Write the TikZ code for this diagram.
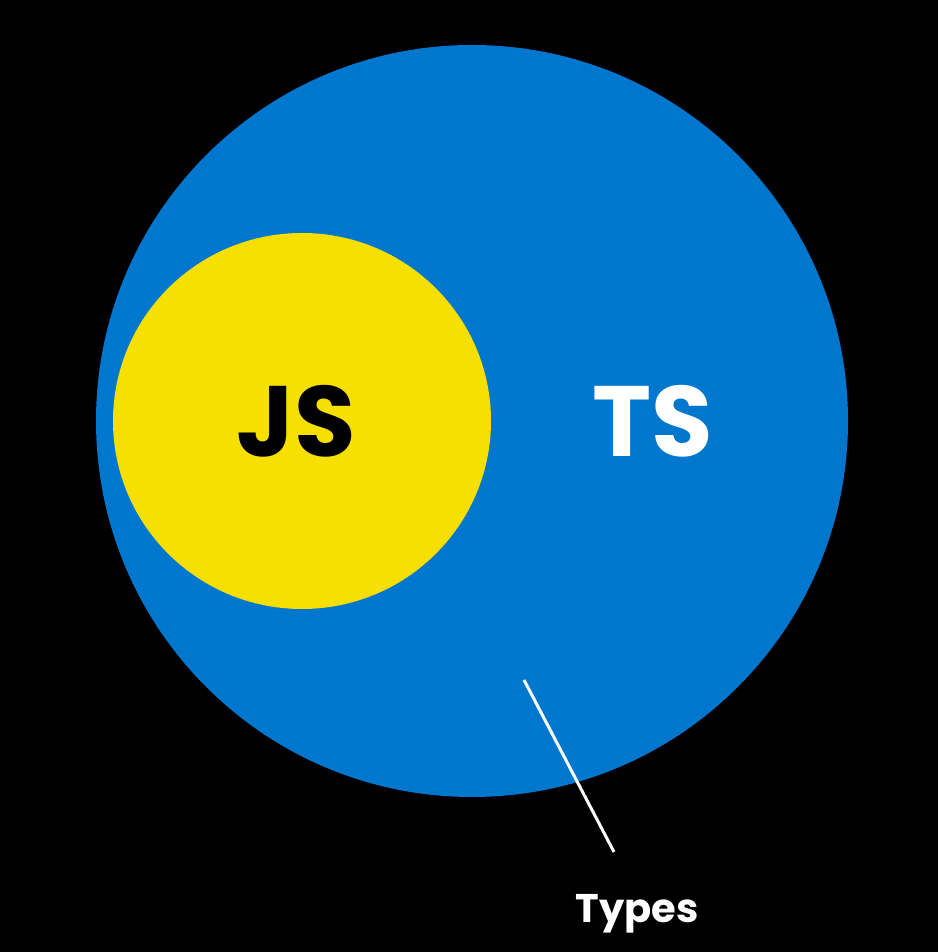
\documentclass[tikz,border=0pt]{standalone}
\usepackage{fontspec}
\usetikzlibrary{shapes.geometric}
\setmainfont{Poppins}
\definecolor{tsblue}{HTML}{0077CF}
\definecolor{jsyellow}{HTML}{F7DF00}
\begin{document}
\begin{tikzpicture}[x=1pt,y=1pt,
  lbl/.style={font=\bfseries\fontsize{100}{100}\selectfont,inner sep=0pt}]
\fill[black] (0,0) rectangle (938,952);
\useasboundingbox (0,0) rectangle (938,952);
\node[circle,fill=tsblue,minimum size=752pt,inner sep=0pt] (ts) at (472,531) {};
\node[ellipse,fill=jsyellow,minimum width=378pt,minimum height=376pt,inner sep=0pt] (js) at (302,531) {};
\node[lbl,text=black] (jst) at (296,531) {JS};
\node[lbl,text=white] (tst) at (653,531) {TS};
\coordinate (a) at (524,272);
\coordinate (b) at (614,100);
\draw[white,line width=3pt] (a) -- (b);
\node[text=white,font=\bfseries\fontsize{40}{40}\selectfont,inner sep=0pt] (types) at (637,38) {Types};
\end{tikzpicture}
\end{document}
